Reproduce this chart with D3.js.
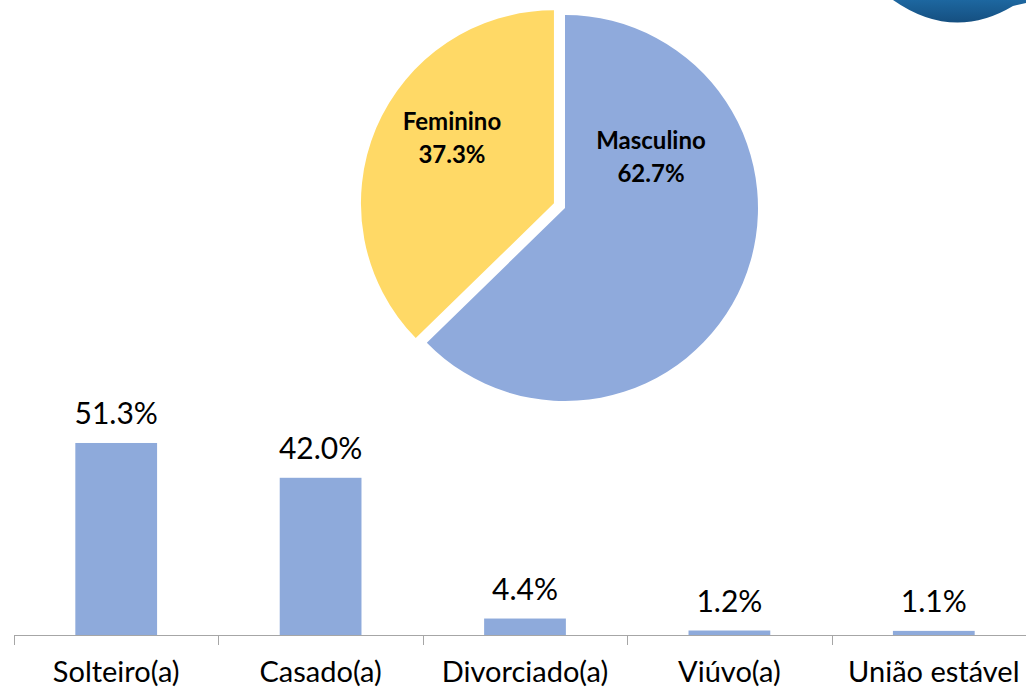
<!DOCTYPE html>
<html>
<head>
<meta charset="utf-8">
<script src="https://cdn.jsdelivr.net/npm/d3@7"></script>
<style>
  body { margin: 0; background: #fff; }
  svg { display: block; font-family: Lato, "Open Sans", sans-serif; }
</style>
</head>
<body>
<script>
var width = 1026;
var height = 689;

// pie data (sexo)
var sexLabels = ["Masculino", "Feminino"];
var sexValues = [62.7, 37.3];
var sexColors = ["#8faadc", "#ffd966"];

// bar data (estado civil)
var civilLabels = ["Solteiro(a)", "Casado(a)", "Divorciado(a)", "Viúvo(a)", "União estável"];
var civilValues = [51.3, 42.0, 4.4, 1.2, 1.1];

var svg = d3.select("body").append("svg")
    .attr("width", width)
    .attr("height", height);

// decorative blue shape, top right corner
var grad = svg.append("defs").append("linearGradient")
    .attr("id", "blueGrad")
    .attr("x1", 0).attr("y1", 0).attr("x2", 0).attr("y2", 1);
grad.append("stop").attr("offset", "0%").attr("stop-color", "#1d67a0");
grad.append("stop").attr("offset", "100%").attr("stop-color", "#154f80");

svg.append("path")
    .attr("d", "M893,0 Q953,42 1013,6 L1026,3 L1026,0 Z")
    .attr("fill", "url(#blueGrad)");

// ---- pie ----
var cx = 565, cy = 208, r = 193;

var pie = d3.pie().sort(null).value(function(d) { return d; });
var arc = d3.arc().innerRadius(0).outerRadius(r);
var arcs = pie(sexValues);

var pieG = svg.append("g").attr("transform", "translate(" + cx + "," + cy + ")");

// Feminino slice is pulled out a bit
var explode = [0, 12];

pieG.selectAll("path.slice")
    .data(arcs)
  .enter().append("path")
    .attr("class", "slice")
    .attr("d", arc)
    .attr("fill", function(d, i) { return sexColors[i]; })
    .attr("transform", function(d, i) {
      var a = (d.startAngle + d.endAngle) / 2;
      return "translate(" + (Math.sin(a) * explode[i]) + "," + (-Math.cos(a) * explode[i]) + ")";
    });

// label offsets relative to each slice's own center (excel best fit)
var labelOffsets = [[86, -59], [-102, -73]];

var lab = pieG.selectAll("g.lab")
    .data(arcs)
  .enter().append("g")
    .attr("class", "lab")
    .attr("transform", function(d, i) {
      var a = (d.startAngle + d.endAngle) / 2;
      var ex = Math.sin(a) * explode[i], ey = -Math.cos(a) * explode[i];
      return "translate(" + (ex + labelOffsets[i][0]) + "," + (ey + labelOffsets[i][1]) + ")";
    });

lab.append("text")
    .attr("text-anchor", "middle")
    .style("font-weight", "bold")
    .style("font-size", "24px")
    .attr("y", 0)
    .text(function(d, i) { return sexLabels[i]; });

lab.append("text")
    .attr("text-anchor", "middle")
    .style("font-weight", "bold")
    .style("font-size", "24px")
    .attr("y", 33)
    .text(function(d) { return d.value.toFixed(1) + "%"; });

// ---- bars ----
var baseY = 635;
var axisLeft = 14;
var band = 204.4;

var x = d3.scaleBand()
    .domain(civilLabels)
    .range([axisLeft, axisLeft + band * civilLabels.length])
    .paddingInner(0.6)
    .paddingOuter(0.3);

var y = d3.scaleLinear()
    .domain([0, 60])
    .range([baseY, baseY - 60 * 3.743]);

svg.selectAll("rect.bar")
    .data(civilValues)
  .enter().append("rect")
    .attr("class", "bar")
    .attr("x", function(d, i) { return x(civilLabels[i]); })
    .attr("width", x.bandwidth())
    .attr("y", function(d) { return y(d); })
    .attr("height", function(d) { return baseY - y(d); })
    .attr("fill", "#8eaadb");

svg.selectAll("text.val")
    .data(civilValues)
  .enter().append("text")
    .attr("class", "val")
    .attr("x", function(d, i) { return x(civilLabels[i]) + x.bandwidth() / 2; })
    .attr("y", function(d) { return y(d) - 19; })
    .attr("text-anchor", "middle")
    .style("font-size", "30px")
    .attr("fill", "#000")
    .text(function(d) { return d.toFixed(1) + "%"; });

// category axis
var xAxis = svg.append("g")
    .attr("transform", "translate(0," + baseY + ")");

xAxis.append("line")
    .attr("x1", axisLeft).attr("x2", width)
    .attr("y1", 0.5).attr("y2", 0.5)
    .attr("stroke", "#a6a6a6");

var tickX = d3.range(civilLabels.length + 1).map(function(i) { return axisLeft + band * i; });

xAxis.selectAll("line.tick")
    .data(tickX)
  .enter().append("line")
    .attr("class", "tick")
    .attr("x1", function(d) { return Math.round(d) + 0.5; })
    .attr("x2", function(d) { return Math.round(d) + 0.5; })
    .attr("y1", 0).attr("y2", 10)
    .attr("stroke", "#a6a6a6");

xAxis.selectAll("text.cat")
    .data(civilLabels)
  .enter().append("text")
    .attr("class", "cat")
    .attr("x", function(d) { return x(d) + x.bandwidth() / 2; })
    .attr("y", 47)
    .attr("text-anchor", "middle")
    .style("font-size", "29px")
    .attr("fill", "#000")
    .text(function(d) { return d; });
</script>
</body>
</html>
